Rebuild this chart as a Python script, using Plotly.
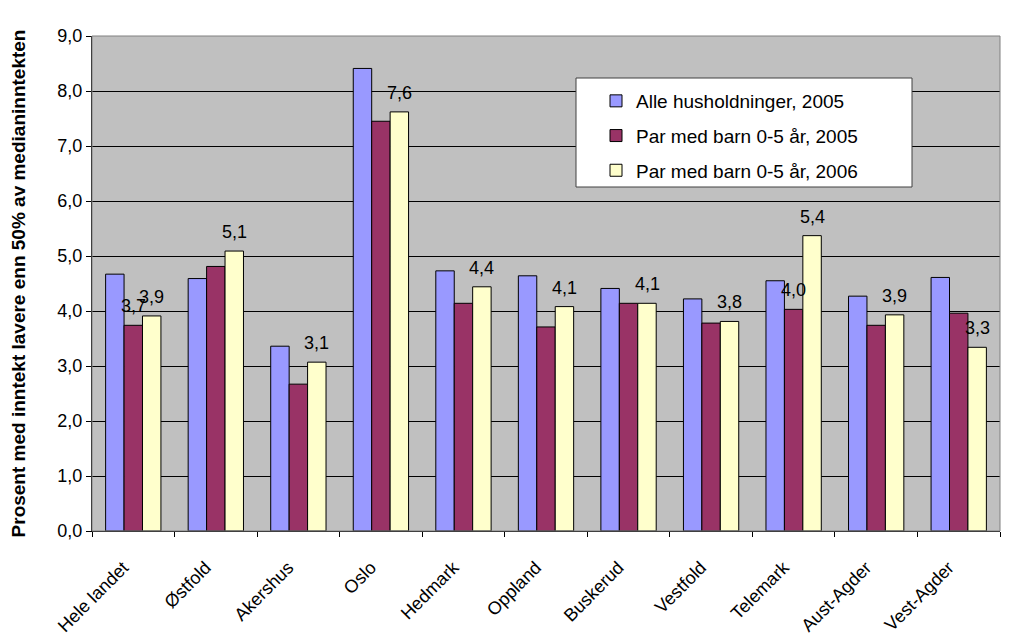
import plotly.graph_objects as go

categories = ["Hele landet", "Østfold", "Akershus", "Oslo", "Hedmark", "Oppland",
              "Buskerud", "Vestfold", "Telemark", "Aust-Agder", "Vest-Agder"]
series_names = ["Alle husholdninger, 2005", "Par med barn 0-5 år, 2005", "Par med barn 0-5 år, 2006"]
alle_2005 = [4.67, 4.59, 3.36, 8.41, 4.73, 4.64, 4.41, 4.22, 4.55, 4.27, 4.61]
par_2005 = [3.74, 4.81, 2.67, 7.45, 4.14, 3.71, 4.14, 3.78, 4.03, 3.74, 3.96]
par_2006 = [3.91, 5.09, 3.07, 7.62, 4.44, 4.08, 4.14, 3.81, 5.37, 3.93, 3.34]
# which points carry a data label: (series index, category index)
labelled = [(1, 0), (2, 0), (2, 1), (2, 2), (2, 3), (2, 4), (2, 5), (2, 6), (2, 7),
            (1, 8), (2, 8), (2, 9), (2, 10)]
y_ticks = [0, 1, 2, 3, 4, 5, 6, 7, 8, 9]

colors = ["#9999FF", "#993366", "#FFFFCC"]
all_series = [alle_2005, par_2005, par_2006]

FONT = "Liberation Sans, Arial, sans-serif"

# page body has an 8px default margin; figure is sized to compensate
OFF = 8
W, H = 1011 - OFF, 635 - OFF
PL, PR, PT, PB = 92, 1000, 36, 531  # target plot area in page pixels
ml, mt = PL - OFF, PT - OFF
mr = (OFF + W) - PR
mb = (OFF + H) - PB
pw, ph = PR - PL, PB - PT

fig = go.Figure()
for i, (name, vals) in enumerate(zip(series_names, all_series)):
    fig.add_trace(go.Bar(
        x=categories, y=vals, name=name,
        marker=dict(color=colors[i], line=dict(color="#000000", width=1)),
        legendgroup=f"g{i}",
    ))

bar_px = 18.5
for si, ci in labelled:
    v = all_series[si][ci]
    fig.add_annotation(
        x=categories[ci], y=v, xref="x", yref="y",
        text=f"{v:.1f}".replace(".", ","),
        showarrow=False, xshift=(si - 1) * bar_px, yshift=7,
        yanchor="bottom", xanchor="center",
        font=dict(family=FONT, size=18, color="#000000"),
    )

# plot area border (grey top/right) and legend box
fig.add_shape(type="rect", xref="paper", yref="paper", x0=0, x1=1, y0=0, y1=1,
              line=dict(color="#808080", width=1), fillcolor="rgba(0,0,0,0)", layer="above")
fig.add_shape(type="rect", xref="paper", yref="paper",
              x0=(576 - PL) / pw, x1=(912 - PL) / pw,
              y0=(PB - 187) / ph, y1=(PB - 78) / ph,
              line=dict(color="#404040", width=1), fillcolor="#FFFFFF", layer="above")

fig.update_layout(
    width=W, height=H,
    margin=dict(l=ml, r=mr, t=mt, b=mb, autoexpand=False),
    paper_bgcolor="#FFFFFF", plot_bgcolor="#C0C0C0",
    barmode="group", bargap=0.33, bargroupgap=0,
    separators=", ",
    font=dict(family=FONT, size=18, color="#000000"),
    legend=dict(
        x=(596 - PL) / pw, y=(PB - 82) / ph, xanchor="left", yanchor="top",
        bgcolor="rgba(0,0,0,0)", borderwidth=0,
        font=dict(family=FONT, size=19, color="#000000"),
        traceorder="grouped", tracegroupgap=7,
    ),
    showlegend=True,
)
fig.update_xaxes(
    type="category", tickangle=-45, tickson="boundaries",
    ticks="outside", ticklen=5, tickcolor="#000000",
    showline=True, linecolor="#000000", linewidth=1,
    tickfont=dict(family=FONT, size=18, color="#000000"),
    ticklabelstandoff=18, ticklabelshift=-10,
    showgrid=False,
)
fig.update_yaxes(
    range=[0, 9], tickvals=y_ticks, tickformat=".1f",
    ticks="outside", ticklen=5, tickcolor="#000000",
    showline=True, linecolor="#000000", linewidth=1,
    showgrid=True, gridcolor="#000000", gridwidth=1,
    tickfont=dict(family=FONT, size=18, color="#000000"),
    title=dict(text="<b>Prosent med inntekt lavere enn 50% av medianinntekten</b>",
               font=dict(family=FONT, size=19, color="#000000"), standoff=30),
    zeroline=False,
)

fig.write_html("out.html")
